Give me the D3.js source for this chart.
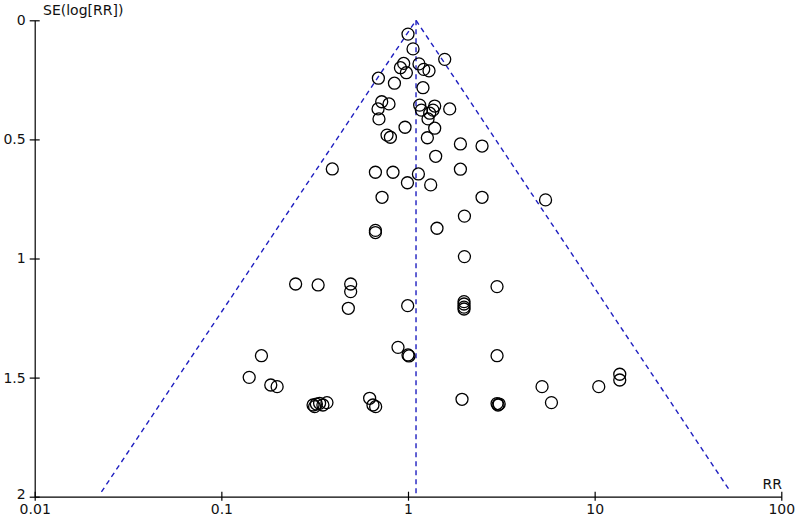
<!DOCTYPE html>
<meta charset="utf-8">
<style>
  body { margin: 0; background: #fff; }
  .axis path, .axis line { stroke: #000; stroke-width: 1.2; }
  .axis text { font-family: "DejaVu Sans", sans-serif; font-size: 14px; fill: #111; }
  .label { font-family: "DejaVu Sans", sans-serif; font-size: 14px; fill: #111; }
  .study { fill: none; stroke: #000; stroke-width: 1.3; }
  .funnel { fill: none; stroke: #1f1fc0; stroke-width: 1.4; stroke-dasharray: 5,4; }
</style>
<svg width="797" height="519"></svg>
<script src="https://d3js.org/d3.v7.min.js"></script>
<script>

// study effect sizes (risk ratio) and standard errors of log RR
var rr = [1.00, 1.064, 1.573, 0.948, 0.911, 0.980, 1.145, 1.214, 1.296, 0.694,
          0.846, 1.203, 0.723, 0.791, 0.691, 0.699, 1.155, 1.180, 1.390, 1.361,
          1.307, 1.280, 1.673, 1.390, 0.964, 0.772, 0.805, 1.270, 1.909, 2.493,
          1.407, 0.393, 0.669, 0.831, 1.909, 1.137, 0.993, 1.323, 0.726, 2.493,
          5.457, 2.006, 1.430, 0.669, 0.669, 2.006, 0.250, 0.330, 0.493, 0.493,
          0.479, 0.996, 2.999, 1.996, 1.996, 1.996, 1.996, 0.884, 1.000, 1.012,
          3.000, 0.164, 0.141, 0.184, 0.199, 0.310, 0.316, 0.323, 0.336, 0.350,
          0.368, 0.623, 0.649, 0.671, 1.947, 3.036, 3.000, 3.080, 5.226, 5.869,
          10.52, 13.63, 13.63];
var se = [0.058, 0.120, 0.164, 0.181, 0.199, 0.220, 0.183, 0.206, 0.212, 0.243,
          0.264, 0.283, 0.342, 0.351, 0.372, 0.414, 0.356, 0.377, 0.360, 0.377,
          0.390, 0.414, 0.372, 0.453, 0.449, 0.482, 0.491, 0.493, 0.519, 0.528,
          0.571, 0.624, 0.638, 0.638, 0.625, 0.645, 0.682, 0.691, 0.743, 0.743,
          0.754, 0.822, 0.873, 0.882, 0.891, 0.992, 1.107, 1.111, 1.107, 1.139,
          1.209, 1.198, 1.118, 1.181, 1.191, 1.204, 1.212, 1.373, 1.405, 1.409,
          1.408, 1.408, 1.499, 1.531, 1.538, 1.615, 1.622, 1.611, 1.608, 1.615,
          1.605, 1.587, 1.615, 1.622, 1.591, 1.615, 1.609, 1.611, 1.538, 1.605,
          1.538, 1.486, 1.510];

// pooled estimate and funnel extent
var pooledRR = 1.104;
var seMax = 1.98;

var xTicks = [0.01, 0.1, 1, 10, 100];
var xTickLabels = ['0.01', '0.1', '1', '10', '100'];
var yTicks = [0, 0.5, 1, 1.5, 2];
var yTickLabels = ['0', '0.5', '1', '1.5', '2'];

var svg = d3.select('svg');

var x = d3.scaleLog()
    .domain([0.01, 100])
    .range([34.7, 781.3]);

var y = d3.scaleLinear()
    .domain([0, 2])
    .range([20.3, 496.7]);

// axes
var xAxis = svg.append('g')
    .attr('class', 'axis')
    .attr('transform', 'translate(0,' + y(2) + ')')
    .call(d3.axisBottom(x)
        .tickValues(xTicks)
        .tickFormat(function(d, i) { return xTickLabels[i]; })
        .tickSizeOuter(0));
xAxis.selectAll('.tick line').attr('y1', -5).attr('y2', 4);
xAxis.selectAll('.tick text').attr('y', 7).attr('dy', '0.71em');

var yAxis = svg.append('g')
    .attr('class', 'axis')
    .attr('transform', 'translate(' + x(0.01) + ',0)')
    .call(d3.axisLeft(y)
        .tickValues(yTicks)
        .tickFormat(function(d, i) { return yTickLabels[i]; })
        .tickSizeOuter(0));
yAxis.selectAll('.tick line').attr('x1', -5).attr('x2', 5);
yAxis.selectAll('.tick text')
    .attr('x', -9)
    .attr('y', function(d) { return d === 2 ? -3 : 0; });

svg.append('text')
    .attr('class', 'label')
    .attr('x', 43)
    .attr('y', 15)
    .text('SE(log[RR])');

svg.append('text')
    .attr('class', 'label')
    .attr('x', 782)
    .attr('y', 489)
    .attr('text-anchor', 'end')
    .text('RR');

// funnel lines
var z = 1.96;
var funnelPts = [
    [pooledRR * Math.exp(-z * seMax), seMax],
    [pooledRR, 0],
    [pooledRR * Math.exp(z * seMax), seMax]
];
var line = d3.line()
    .x(function(d) { return x(d[0]); })
    .y(function(d) { return y(d[1]); });

svg.append('path')
    .attr('class', 'funnel')
    .attr('d', line(funnelPts));

svg.append('path')
    .attr('class', 'funnel')
    .attr('d', line([[pooledRR, 0], [pooledRR, 2]]));

// studies
svg.append('g')
    .selectAll('circle')
    .data(rr)
    .enter().append('circle')
        .attr('class', 'study')
        .attr('cx', function(d) { return x(d); })
        .attr('cy', function(d, i) { return y(se[i]); })
        .attr('r', 6);

</script>
